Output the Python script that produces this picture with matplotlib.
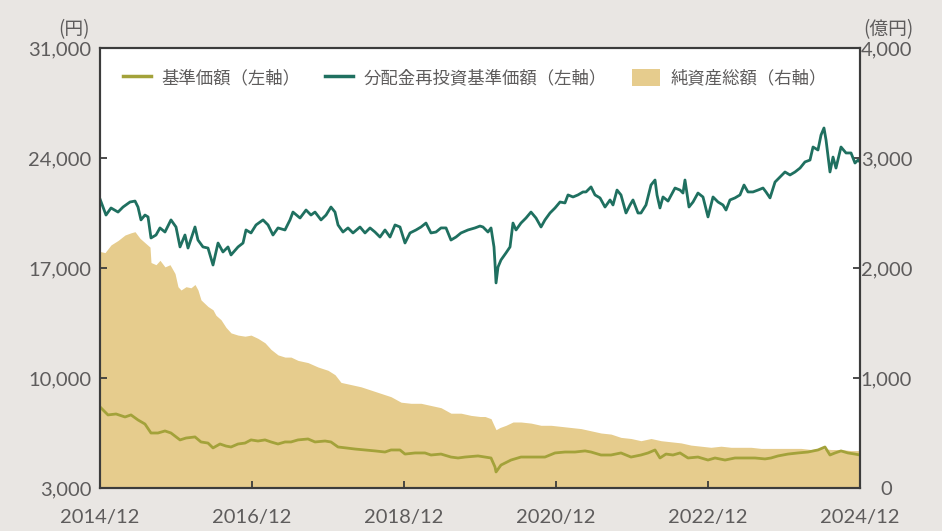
import matplotlib
matplotlib.use("Agg")
import matplotlib.pyplot as plt
from matplotlib.lines import Line2D
from matplotlib.patches import Patch
from matplotlib.ticker import FixedLocator
from matplotlib import font_manager as fm

plt.rcParams['font.family'] = ['Noto Sans CJK JP', 'DejaVu Sans']

# ---- data (time in decimal years; 2015.0 = end of 2014/12) ----
t_reinv = [2015.000, 2015.079, 2015.145, 2015.237, 2015.303, 2015.395, 2015.461, 2015.500, 2015.539, 2015.592,
           2015.632, 2015.671, 2015.737, 2015.789, 2015.855, 2015.934, 2016.000, 2016.053, 2016.118, 2016.158,
           2016.250, 2016.289, 2016.355, 2016.421, 2016.487, 2016.553, 2016.618, 2016.684, 2016.724, 2016.816,
           2016.882, 2016.921, 2016.987, 2017.053, 2017.145, 2017.211, 2017.276, 2017.342, 2017.434, 2017.500,
           2017.539, 2017.632, 2017.711, 2017.776, 2017.829, 2017.908, 2017.974, 2018.039, 2018.092, 2018.132,
           2018.197, 2018.263, 2018.329, 2018.421, 2018.487, 2018.553, 2018.618, 2018.684, 2018.750, 2018.816,
           2018.882, 2018.947, 2019.013, 2019.079, 2019.158, 2019.224, 2019.289, 2019.355, 2019.421, 2019.487,
           2019.553, 2019.618, 2019.684, 2019.750, 2019.842, 2019.934, 2020.000, 2020.039, 2020.105, 2020.145,
           2020.184, 2020.197, 2020.211, 2020.237, 2020.276, 2020.342, 2020.395, 2020.434, 2020.474, 2020.539,
           2020.605, 2020.671, 2020.737, 2020.803, 2020.855, 2020.921, 2020.987, 2021.053, 2021.118, 2021.158,
           2021.224, 2021.289, 2021.355, 2021.395, 2021.461, 2021.513, 2021.579, 2021.645, 2021.711, 2021.750,
           2021.803, 2021.855, 2021.921, 2021.974, 2022.013, 2022.079, 2022.118, 2022.184, 2022.250, 2022.303,
           2022.329, 2022.368, 2022.408, 2022.474, 2022.566, 2022.632, 2022.671, 2022.697, 2022.750, 2022.803,
           2022.868, 2022.934, 2023.000, 2023.066, 2023.132, 2023.197, 2023.237, 2023.289, 2023.355, 2023.421,
           2023.474, 2023.526, 2023.592, 2023.658, 2023.724, 2023.763, 2023.816, 2023.882, 2023.947, 2024.013,
           2024.079, 2024.145, 2024.211, 2024.276, 2024.342, 2024.382, 2024.447, 2024.487, 2024.526, 2024.553,
           2024.605, 2024.645, 2024.684, 2024.750, 2024.816, 2024.882, 2024.934, 2024.974, 2025.000]
reinv_nav = [21390, 20370, 20820, 20560, 20880, 21200, 21260, 20880, 20060, 20370,
             20250, 18910, 19100, 19550, 19290, 20060, 19610, 18340, 19100, 18270,
             19610, 18780, 18340, 18270, 17190, 18590, 18020, 18340, 17830, 18340,
             18590, 19420, 19230, 19740, 20060, 19740, 19100, 19550, 19420, 20060,
             20560, 20180, 20690, 20370, 20560, 20060, 20370, 20880, 20560, 19740,
             19290, 19550, 19230, 19610, 19230, 19550, 19290, 18970, 19420, 18970,
             19740, 19610, 18590, 19230, 19420, 19610, 19860, 19230, 19290, 19550,
             19550, 18780, 18970, 19230, 19420, 19550, 19670, 19610, 19290, 19550,
             18340, 17320, 16050, 17060, 17510, 17960, 18340, 19860, 19420, 19860,
             20180, 20560, 20180, 19610, 20060, 20500, 20820, 21200, 21140, 21650,
             21520, 21650, 21840, 21840, 22160, 21650, 21460, 20880, 21330, 21010,
             21960, 21650, 20500, 21010, 21330, 20500, 20500, 21010, 22280, 22600,
             21650, 20820, 21520, 21260, 22090, 21960, 21770, 22600, 20880, 21200,
             21770, 21520, 20250, 21520, 21200, 21010, 20690, 21330, 21460, 21650,
             22280, 21840, 21840, 21960, 22090, 21840, 21460, 22470, 22790, 23110,
             22920, 23110, 23360, 23750, 23870, 24700, 24510, 25460, 25910, 25150,
             23110, 24060, 23360, 24700, 24320, 24320, 23680, 23870, 23750]

t_nav = [2015.000, 2015.105, 2015.211, 2015.329, 2015.408, 2015.500, 2015.592, 2015.671, 2015.763, 2015.855,
         2015.934, 2016.053, 2016.132, 2016.250, 2016.329, 2016.421, 2016.487, 2016.579, 2016.658, 2016.724,
         2016.816, 2016.908, 2016.987, 2017.079, 2017.171, 2017.250, 2017.342, 2017.434, 2017.513, 2017.605,
         2017.737, 2017.829, 2017.961, 2018.039, 2018.132, 2018.237, 2018.355, 2018.487, 2018.618, 2018.750,
         2018.829, 2018.947, 2019.013, 2019.145, 2019.276, 2019.355, 2019.487, 2019.618, 2019.711, 2019.803,
         2019.974, 2020.066, 2020.145, 2020.197, 2020.211, 2020.276, 2020.408, 2020.539, 2020.671, 2020.855,
         2020.987, 2021.118, 2021.250, 2021.382, 2021.461, 2021.592, 2021.724, 2021.855, 2021.987, 2022.118,
         2022.211, 2022.303, 2022.368, 2022.447, 2022.539, 2022.632, 2022.737, 2022.868, 2023.000, 2023.092,
         2023.224, 2023.355, 2023.487, 2023.618, 2023.750, 2023.829, 2023.921, 2024.053, 2024.184, 2024.316,
         2024.447, 2024.539, 2024.605, 2024.671, 2024.750, 2024.842, 2024.934, 2025.000]
nav = [8160, 7650, 7710, 7520, 7650, 7330, 7070, 6500, 6500, 6630,
       6500, 6060, 6180, 6250, 5930, 5860, 5550, 5800, 5670, 5610,
       5800, 5860, 6060, 5990, 6060, 5930, 5800, 5930, 5930, 6060,
       6120, 5930, 5990, 5930, 5610, 5550, 5480, 5420, 5360, 5290,
       5420, 5420, 5160, 5230, 5230, 5100, 5160, 4970, 4910, 4970,
       5040, 4970, 4910, 4340, 4020, 4460, 4780, 4970, 4970, 4970,
       5230, 5290, 5290, 5360, 5290, 5100, 5100, 5230, 4970, 5100,
       5230, 5420, 4910, 5160, 5100, 5230, 4910, 4970, 4780, 4910,
       4780, 4910, 4910, 4910, 4850, 4910, 5040, 5160, 5230, 5290,
       5420, 5610, 5100, 5230, 5360, 5230, 5160, 5100]

t_assets = [2015.000, 2015.066, 2015.145, 2015.237, 2015.329, 2015.408, 2015.461, 2015.526, 2015.592, 2015.658,
            2015.671, 2015.737, 2015.789, 2015.855, 2015.921, 2015.987, 2016.026, 2016.066, 2016.132, 2016.197,
            2016.250, 2016.289, 2016.329, 2016.421, 2016.487, 2016.526, 2016.592, 2016.658, 2016.724, 2016.816,
            2016.908, 2016.987, 2017.079, 2017.171, 2017.250, 2017.342, 2017.434, 2017.513, 2017.605, 2017.737,
            2017.868, 2018.000, 2018.092, 2018.171, 2018.303, 2018.434, 2018.566, 2018.697, 2018.829, 2018.961,
            2019.092, 2019.224, 2019.355, 2019.487, 2019.618, 2019.750, 2019.882, 2020.000, 2020.066, 2020.145,
            2020.184, 2020.211, 2020.263, 2020.342, 2020.434, 2020.539, 2020.671, 2020.803, 2020.934, 2021.066,
            2021.197, 2021.329, 2021.461, 2021.592, 2021.724, 2021.855, 2021.987, 2022.118, 2022.250, 2022.382,
            2022.513, 2022.645, 2022.776, 2022.908, 2023.039, 2023.171, 2023.303, 2023.434, 2023.566, 2023.697,
            2023.829, 2023.961, 2024.092, 2024.224, 2024.355, 2024.487, 2024.618, 2024.750, 2024.882, 2025.000]
net_assets = [2150, 2140, 2210, 2250, 2300, 2320, 2330, 2270, 2230, 2190,
              2050, 2030, 2070, 2010, 2030, 1950, 1830, 1800, 1830, 1820,
              1850, 1800, 1710, 1650, 1620, 1570, 1530, 1460, 1410, 1390,
              1380, 1390, 1360, 1320, 1260, 1210, 1190, 1190, 1160, 1140,
              1100, 1070, 1030, 960, 940, 920, 890, 860, 830, 780,
              770, 770, 750, 730, 680, 680, 660, 650, 650, 630,
              570, 530, 550, 570, 600, 600, 590, 570, 570, 560,
              550, 540, 520, 500, 490, 460, 450, 430, 450, 430,
              420, 410, 390, 380, 370, 380, 370, 370, 370, 360,
              360, 360, 360, 360, 350, 360, 350, 350, 340, 340]

x_ticks = [2015, 2017, 2019, 2021, 2023, 2025]
x_labels = ['2014/12', '2016/12', '2018/12', '2020/12', '2022/12', '2024/12']
left_ticks = [3000, 10000, 17000, 24000, 31000]
right_ticks = [0, 1000, 2000, 3000, 4000]

names = ['基準価額（左軸）', '分配金再投資基準価額（左軸）', '純資産総額（右軸）']

# ---- style ----
BG = '#E9E6E3'
C_NAV = '#A3A23A'
C_REINV = '#1F7060'
C_AREA = '#E6CC8D'
TXT = '#5E5C5C'
SPINE = '#3C3C3C'

num_font = fm.FontProperties(family=['Lato', 'Noto Sans CJK JP'], weight='normal', size=14.5)
cjk_font = fm.FontProperties(family=['Noto Sans CJK JP', 'DejaVu Sans'], size=12.5)

fig = plt.figure(figsize=(9.42, 5.31), dpi=100, facecolor=BG)
ax = fig.add_axes([100/942, 43/531, 760/942, 440/531])
ax2 = ax.twinx()

ax2.fill_between(t_assets, 0, net_assets, color=C_AREA, linewidth=0)
ax.plot(t_nav, nav, color=C_NAV, lw=2.0, solid_joinstyle='round')
ax.plot(t_reinv, reinv_nav, color=C_REINV, lw=2.0, solid_joinstyle='round')

ax.set_zorder(ax2.get_zorder() + 1)
ax.patch.set_visible(False)
ax2.patch.set_visible(True)
ax2.patch.set_facecolor('white')

ax.set_xlim(2015, 2025)
ax.set_ylim(3000, 31000)
ax2.set_ylim(0, 4000)

ax.xaxis.set_major_locator(FixedLocator(x_ticks))
ax.set_xticklabels(x_labels, fontproperties=num_font)
ax.yaxis.set_major_locator(FixedLocator(left_ticks))
ax.set_yticklabels([f'{v:,}' for v in left_ticks], fontproperties=num_font)
ax2.yaxis.set_major_locator(FixedLocator(right_ticks))
ax2.set_yticklabels([f'{v:,}' for v in right_ticks], fontproperties=num_font)

for a in (ax, ax2):
    for s in a.spines.values():
        s.set_color(SPINE)
        s.set_linewidth(1.5)

ax.tick_params(axis='x', direction='in', length=5, width=1.3, color=SPINE,
               labelcolor=TXT, pad=15)
ax.tick_params(axis='y', direction='in', length=5, width=1.3, color=SPINE,
               labelcolor=TXT, pad=6)
ax2.tick_params(axis='y', direction='in', length=5, width=1.3, color=SPINE,
                labelcolor=TXT, pad=19)
for lbl in ax2.get_yticklabels():
    lbl.set_horizontalalignment('center')

fig.text(90/942, 1 - 30/531, '(円)', ha='right', va='center', fontproperties=cjk_font, color=TXT,
         fontsize=13.5)
fig.text(888/942, 1 - 30/531, '(億円)', ha='center', va='center', fontproperties=cjk_font, color=TXT,
         fontsize=13.5)

handles = [Line2D([], [], color=C_NAV, lw=2.5),
           Line2D([], [], color=C_REINV, lw=2.5),
           Patch(facecolor=C_AREA, edgecolor='none')]
leg = ax.legend(handles, names, loc='center left', bbox_to_anchor=(23/760, 1 - 30/440),
                ncol=3, frameon=False, prop=cjk_font, borderpad=0, borderaxespad=0,
                handlelength=1.6, handleheight=1.15, handletextpad=0.6, columnspacing=1.45)
for tx in leg.get_texts():
    tx.set_color(TXT)

fig.savefig('out.png', dpi=100, facecolor=BG)
